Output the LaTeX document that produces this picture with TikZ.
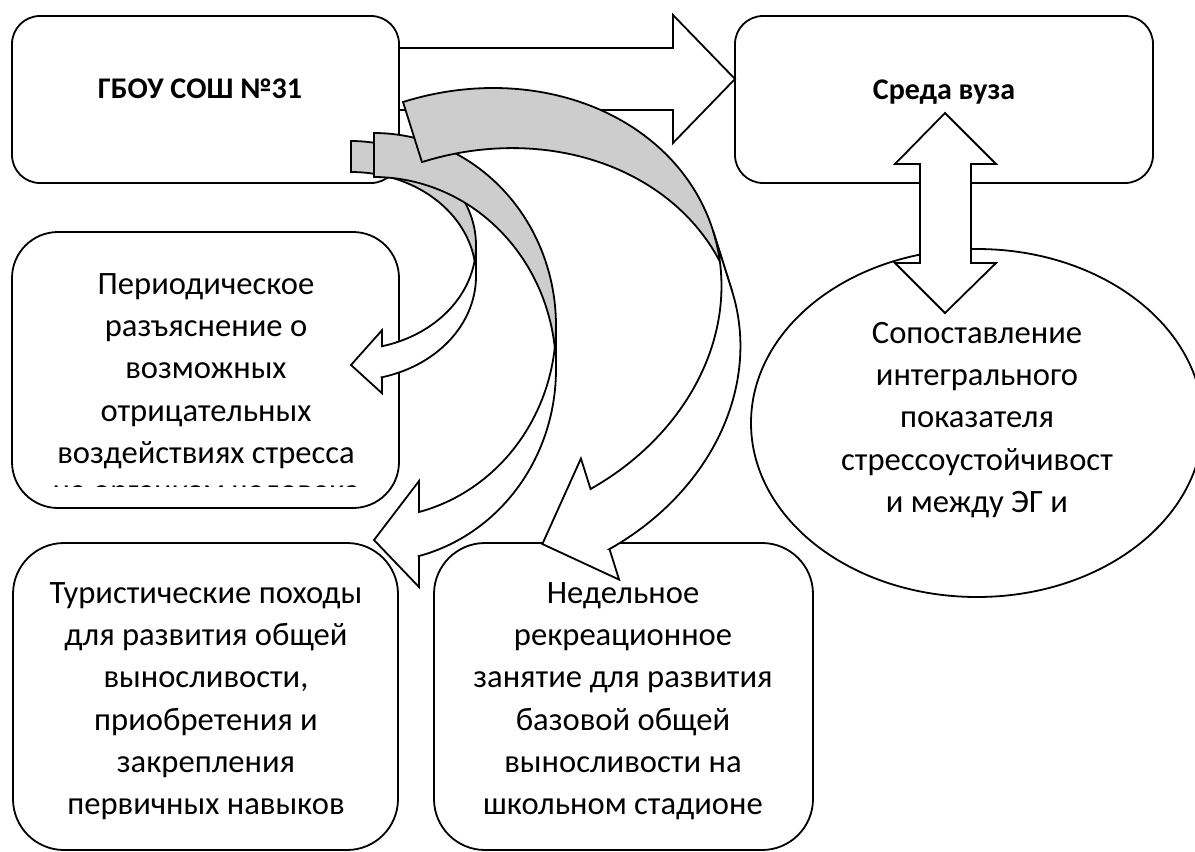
\documentclass[tikz,border=0pt]{standalone}
\usepackage{fontspec}
\setmainfont{Carlito}
\usetikzlibrary{shapes.geometric}
\definecolor{backgray}{RGB}{205,205,205}
\tikzset{
  boxshape/.style={draw=black, line width=0.9pt, fill=white, rectangle, inner sep=0pt, outer sep=0pt},
  ovalshape/.style={draw=black, line width=0.9pt, fill=white, ellipse, inner sep=0pt, outer sep=0pt},
  arrowline/.style={draw=black, line width=0.9pt, line join=miter},
  bodytext/.style={font=\fontsize{16.3pt}{21.15pt}\selectfont, align=center, inner sep=0pt, anchor=north},
  lonetext/.style={font=\fontsize{16.3pt}{21.15pt}\selectfont, inner sep=0pt, anchor=base},
  titletext/.style={font=\fontsize{15pt}{18pt}\selectfont\bfseries, inner sep=0pt, anchor=base},
}
\newcommand{\firstline}{\rule{0pt}{12.2pt}}
% curved left arrow (tail top at #1,#2; rotation #3; thickness #4; head width #5; head length #6; x radius #7; y radius #8)
\newcommand{\curvedleft}[8]{%
  \begin{scope}[shift={(#1,#2)}, rotate=#3]
    \pgfmathsetmacro\cdy{sqrt(1-(#6/#7)^2)*#8}
    \pgfmathsetmacro\cang{acos(#6/#7)}
    \pgfmathsetmacro\cyfive{#8+\cdy}
    \pgfmathsetmacro\cyseven{#8+#4+\cdy}
    \pgfmathsetmacro\cdh{(#5-#4)/2}
    \pgfmathsetmacro\cyfour{\cyfive-\cdh}
    \pgfmathsetmacro\cyeight{\cyseven+\cdh}
    \pgfmathsetmacro\cysix{2*(#8+(#4+#5)/4)-#5/2}
    \draw[arrowline, fill=backgray] (0,0)
      -- plot[domain=-90:0, samples=50] ({#7*cos(\x)}, {#8+#8*sin(\x)})
      -- plot[domain=0:-90, samples=50] ({#7*cos(\x)}, {#8+#4+#8*sin(\x)}) -- cycle;
    \draw[arrowline, fill=white] (#7,#8)
      -- plot[domain=0:\cang, samples=50] ({#7*cos(\x)}, {#8+#8*sin(\x)})
      -- (#6,\cyfour) -- (0,\cysix) -- (#6,\cyeight) -- (#6,\cyseven)
      -- plot[domain=\cang:0, samples=50] ({#7*cos(\x)}, {#8+#4+#8*sin(\x)}) -- cycle;
  \end{scope}}
\begin{document}
\begin{tikzpicture}[x=0.5pt, y=-0.5pt]
  \useasboundingbox (0,0) rectangle (1195,852);
  \clip (0,0) rectangle (1195,852);

  % boxes
  \node[boxshape, rounded corners=14pt, minimum width=193.5pt, minimum height=83.5pt] (A) at (205.5,99.5) {};
  \node[boxshape, rounded corners=14pt, minimum width=209pt, minimum height=83.5pt] (B) at (944,99.5) {};
  \node[boxshape, rounded corners=23pt, minimum width=193.5pt, minimum height=138pt] (C) at (205.5,370) {};
  \node[boxshape, rounded corners=25.5pt, minimum width=192.5pt, minimum height=153.5pt] (D) at (205.5,696.5) {};
  \node[boxshape, rounded corners=25.5pt, minimum width=189.5pt, minimum height=153.5pt] (E) at (623.5,696.5) {};
  \node[ovalshape, minimum width=226pt, minimum height=174pt] (F) at (977,423) {};

  % right block arrow A -> B
  \draw[arrowline, fill=white] (399,48) -- (673,48) -- (673,15) -- (735,79) -- (673,143) -- (673,110) -- (399,110) -- cycle;

  % up-down block arrow B <-> F
  \draw[arrowline, fill=white] (920,164) -- (895,164) -- (945,113) -- (996,164) -- (971,164)
    -- (971,263) -- (996,263) -- (945,313) -- (895,263) -- (920,263) -- cycle;

  % curved arrows from A
  \curvedleft{351}{141}{0}{31}{63}{31}{125}{104.25}
  \curvedleft{374}{133}{0}{44}{106}{45}{182}{192.5}
  \curvedleft{403}{102}{17.5}{63}{127}{62.5}{257}{216}

  % texts
  \node[titletext] (At) at (200,98.5) {ГБОУ СОШ №31};
  \node[titletext] (Bt) at (944,99) {Среда вуза};
  \node[bodytext] (Ct) at (206,269.5) {\firstline Периодическое\\разъяснение о\\возможных\\отрицательных\\воздействиях стресса};
  \begin{scope}
    \clip (12,232) rectangle (399,486);
    \node[lonetext] (Ct6) at (206,501.5) {на организм человека};
  \end{scope}
  \node[bodytext] (Dt) at (206,578.5) {\firstline Туристические походы\\для развития общей\\выносливости,\\приобретения и\\закрепления\\первичных навыков};
  \node[bodytext] (Et) at (623,578.5) {\firstline Недельное\\рекреационное\\занятие для развития\\базовой общей\\выносливости на\\школьном стадионе};
  \node[bodytext] (Ft) at (977,318.5) {\firstline Сопоставление\\интегрального\\показателя\\стрессоустойчивост\\и между ЭГ и};
\end{tikzpicture}
\end{document}
